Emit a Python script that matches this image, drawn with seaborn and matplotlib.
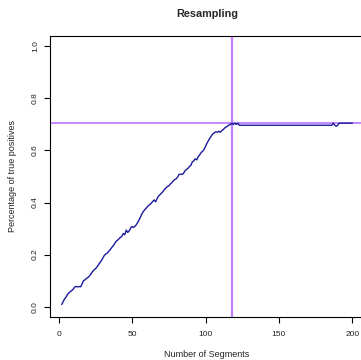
import matplotlib
matplotlib.use("Agg")
import matplotlib.pyplot as plt
import numpy as np
import pandas as pd
import seaborn as sns

# Share of true positives recovered as the number of segments grows
segments = list(range(2, 201))
true_pos = [
    0.008, 0.018, 0.030, 0.036, 0.047, 0.053, 0.058, 0.062, 0.068, 0.076,
    0.077, 0.076, 0.077, 0.076, 0.088, 0.100, 0.103, 0.109, 0.112, 0.118,
    0.126, 0.134, 0.141, 0.145, 0.152, 0.160, 0.168, 0.176, 0.186, 0.196,
    0.202, 0.205, 0.212, 0.218, 0.226, 0.233, 0.241, 0.250, 0.255, 0.260,
    0.266, 0.270, 0.281, 0.276, 0.294, 0.285, 0.291, 0.302, 0.308, 0.304,
    0.309, 0.316, 0.325, 0.336, 0.348, 0.360, 0.368, 0.375, 0.381, 0.388,
    0.392, 0.397, 0.404, 0.410, 0.403, 0.415, 0.425, 0.430, 0.436, 0.442,
    0.450, 0.456, 0.461, 0.464, 0.471, 0.476, 0.483, 0.488, 0.491, 0.498,
    0.508, 0.509, 0.508, 0.512, 0.522, 0.527, 0.531, 0.538, 0.543, 0.556,
    0.560, 0.568, 0.564, 0.576, 0.583, 0.592, 0.597, 0.604, 0.616, 0.628,
    0.638, 0.648, 0.656, 0.664, 0.668, 0.672, 0.670, 0.674, 0.670, 0.676,
    0.680, 0.686, 0.690, 0.694, 0.698, 0.700, 0.705, 0.700, 0.705, 0.700,
    0.705,
    0.697, 0.697, 0.697, 0.697, 0.697, 0.697, 0.697, 0.697, 0.697, 0.697, 0.697, 0.697, 0.697, 0.697, 0.697, 0.697,
    0.697, 0.697, 0.697, 0.697, 0.697, 0.697, 0.697, 0.697, 0.697, 0.697, 0.697, 0.697, 0.697, 0.697, 0.697, 0.697,
    0.697, 0.697, 0.697, 0.697, 0.697, 0.697, 0.697, 0.697, 0.697, 0.697, 0.697, 0.697, 0.697, 0.697, 0.697, 0.697,
    0.697, 0.697, 0.697, 0.697, 0.697, 0.697, 0.697, 0.697, 0.697, 0.697, 0.697, 0.697, 0.697, 0.697, 0.697, 0.697,
    0.705, 0.697, 0.693, 0.697, 0.705,
    0.705, 0.705, 0.705, 0.705, 0.705, 0.705, 0.705, 0.705, 0.705,
]
best_segments = 118
best_rate = 0.705

x_ticks = [0, 50, 100, 150, 200]
y_ticks = [0.0, 0.2, 0.4, 0.6, 0.8, 1.0]

df = pd.DataFrame({"segments": segments, "rate": true_pos})

sns.set_style("white")
plt.rcParams["font.family"] = ["Liberation Sans", "DejaVu Sans"]

fig = plt.figure(figsize=(3.61, 3.60), dpi=100)
ax = fig.add_axes([50 / 361, 1 - 317 / 360, 314 / 361, 281 / 360])

ax.axhline(best_rate, color="#bf80ff", linewidth=1.3, zorder=1)
ax.axvline(best_segments, color="#bf80ff", linewidth=1.6, zorder=1)
sns.lineplot(data=df, x="segments", y="rate", ax=ax, color="#1a1a9c",
             linewidth=1.0, zorder=2)

span = segments[-1] - segments[0]
ax.set_xlim(segments[0] - 0.04 * span, segments[-1] + 0.04 * span)
ax.set_ylim(-0.04, 1.04)
ax.set_xticks(x_ticks)
ax.set_yticks(y_ticks)
ax.set_xticklabels([str(v) for v in x_ticks])
ax.set_yticklabels([f"{v:.1f}" for v in y_ticks], rotation=90, va="center")

for s in ax.spines.values():
    s.set_color("black")
    s.set_linewidth(0.8)

ax.tick_params(axis="both", direction="out", length=4, width=0.8, color="black",
               labelsize=6, labelcolor="#222222", bottom=True, left=True)
ax.tick_params(axis="x", pad=6)
ax.tick_params(axis="y", pad=4)

ax.set_xlabel("Number of Segments", fontsize=6.5, color="#222222", labelpad=9)
ax.set_ylabel("Percentage of true positives", fontsize=6.5, color="#222222", labelpad=11)
ax.set_title("Resampling", fontsize=7.8, fontweight="bold", pad=14)

fig.savefig("out.png", dpi=100)
